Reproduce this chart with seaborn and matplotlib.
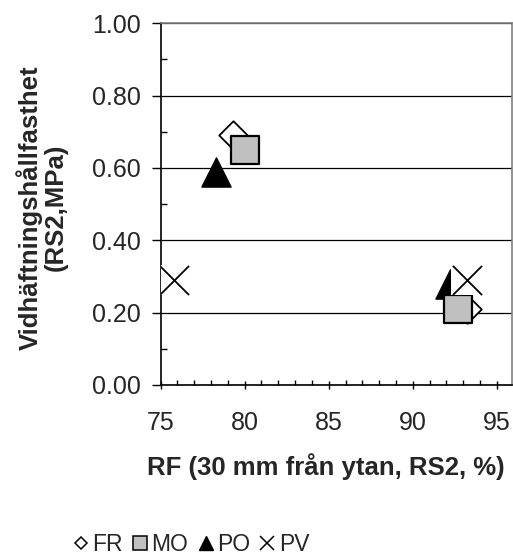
import pandas as pd
import matplotlib.pyplot as plt
import seaborn as sns
from matplotlib.lines import Line2D
from matplotlib.ticker import MultipleLocator, FormatStrFormatter

# data
series = ["FR", "MO", "PO", "PV"]
fr_rf = [79.3, 93.2]
fr_rs = [0.69, 0.21]
mo_rf = [80.0, 92.7]
mo_rs = [0.65, 0.21]
po_rf = [78.3, 92.2]
po_rs = [0.59, 0.28]
pv_rf = [75.8, 93.2]
pv_rs = [0.29, 0.29]

df = pd.DataFrame({
    "RF": fr_rf + mo_rf + po_rf + pv_rf,
    "RS2": fr_rs + mo_rs + po_rs + pv_rs,
    "serie": ["FR"] * 2 + ["MO"] * 2 + ["PO"] * 2 + ["PV"] * 2,
})

sns.set_style("white")
plt.rcParams["font.family"] = ["Liberation Sans", "DejaVu Sans"]

fig = plt.figure(figsize=(5.13, 5.56), dpi=100)
ax = fig.add_axes([0.313, 0.3076, 0.685, 0.6505])

styles = {
    "FR": dict(marker="D", s=14.5 ** 2, color="white", edgecolor="black", linewidth=1.3, zorder=3),
    "PO": dict(marker="^", s=21 ** 2, color="black", edgecolor="black", linewidth=1.0, zorder=4),
    "MO": dict(marker="s", s=20 ** 2, color="#c0c0c0", edgecolor="black", linewidth=1.6, zorder=5),
    "PV": dict(marker="x", s=21 ** 2, color="black", linewidth=1.3, zorder=7),
}
for name in ["FR", "PO", "MO", "PV"]:
    sub = df[df["serie"] == name]
    if name == "PV":
        # white background box behind the cross, as in the Excel chart
        sns.scatterplot(data=sub, x="RF", y="RS2", marker="s", s=22 ** 2,
                        color="white", edgecolor="none", zorder=6, ax=ax)
    sns.scatterplot(data=sub, x="RF", y="RS2", ax=ax, **styles[name])

ax.set_xlim(75, 95.9)
ax.set_ylim(0, 1.0)
ax.xaxis.set_major_locator(MultipleLocator(5))
ax.xaxis.set_minor_locator(MultipleLocator(1))
ax.yaxis.set_major_locator(MultipleLocator(0.2))
ax.yaxis.set_minor_locator(MultipleLocator(0.1))
ax.yaxis.set_major_formatter(FormatStrFormatter("%.2f"))

ax.grid(axis="y", which="major", color="black", linewidth=0.9)
ax.grid(axis="x", visible=False)
ax.set_axisbelow(True)

for side in ["left", "bottom"]:
    ax.spines[side].set_color("black")
    ax.spines[side].set_linewidth(1.2)
for side in ["top", "right"]:
    ax.spines[side].set_color("#808080")
    ax.spines[side].set_linewidth(1.2)

ax.tick_params(axis="x", which="major", direction="inout", length=6, width=1,
               labelsize=18, pad=15.5, bottom=True, color="black")
ax.tick_params(axis="x", which="minor", direction="in", length=3.5, width=1,
               bottom=True, color="black")
ax.tick_params(axis="y", which="major", direction="out", length=6.5, width=1,
               labelsize=18, pad=8, left=True, color="black")
ax.tick_params(axis="y", which="minor", direction="in", length=4.5, width=1,
               left=True, color="black")

ax.set_xlabel("RF (30 mm från ytan, RS2, %)", fontsize=18.5, fontweight="bold")
ax.xaxis.set_label_coords(0.47, -0.188)
ax.set_ylabel("Vidhäftningshållfasthet\n(RS2,MPa)", fontsize=18.5,
              fontweight="bold", linespacing=1.05)
ax.yaxis.set_label_coords(-0.264, 0.49)

handles = [
    Line2D([], [], linestyle="none", marker="D", markersize=5.8, markerfacecolor="white",
           markeredgecolor="black", markeredgewidth=1.1),
    Line2D([], [], linestyle="none", marker="s", markersize=10, markerfacecolor="#c0c0c0",
           markeredgecolor="black", markeredgewidth=1.1),
    Line2D([], [], linestyle="none", marker="^", markersize=10, color="black"),
    Line2D([], [], linestyle="none", marker="x", markersize=10, color="black",
           markeredgewidth=1.1),
]
fig.legend(handles, series, loc="center left", bbox_to_anchor=(0.122, 0.02),
           ncol=4, frameon=False, fontsize=16.5, handlelength=0.8, handletextpad=0.1,
           columnspacing=0.35, borderaxespad=0)

fig.savefig("out.png", dpi=100)
